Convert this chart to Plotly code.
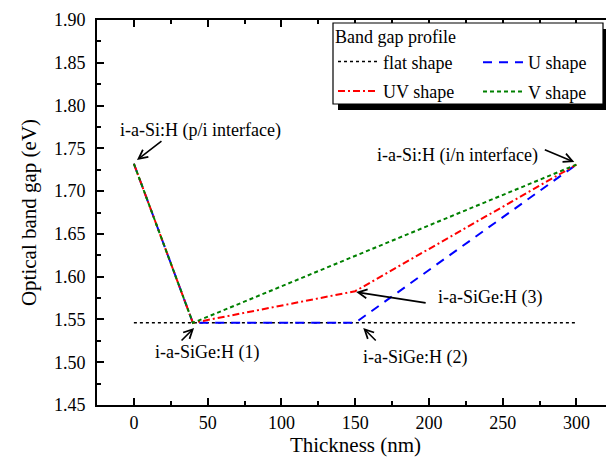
import plotly.graph_objects as go

# ---- data ----
flat_x = [0, 300]
flat_y = [1.546, 1.546]
u_x = [0, 40, 150, 300]
u_y = [1.732, 1.546, 1.546, 1.731]
uv_x = [0, 40, 150, 300]
uv_y = [1.732, 1.546, 1.583, 1.731]
v_x = [0, 40, 300]
v_y = [1.732, 1.546, 1.731]

x_ticks = [0, 50, 100, 150, 200, 250, 300]
y_ticks = [1.45, 1.50, 1.55, 1.60, 1.65, 1.70, 1.75, 1.80, 1.85, 1.90]

FONT = "Liberation Serif"

# screen-pixel helpers (page body has an 8px margin)
PL, PR, PT, PB = 97.0, 614.0, 20.0, 405.0
def px(sx):
    return (sx - PL) / (PR - PL)
def py(sy):
    return (PB - sy) / (PB - PT)

fig = go.Figure()
fig.add_trace(go.Scatter(x=flat_x, y=flat_y, mode="lines", name="flat shape", legend="legend",
                         legendgroup="g1", line=dict(color="black", width=1.5, dash="dot")))
fig.add_trace(go.Scatter(x=u_x, y=u_y, mode="lines", name="U shape", legend="legend2",
                         legendgroup="g2", line=dict(color="#0000ff", width=2, dash="9px,7px")))
fig.add_trace(go.Scatter(x=uv_x, y=uv_y, mode="lines", name="UV shape", legend="legend",
                         legendgroup="g3", line=dict(color="#ff0000", width=2, dash="7px,3px,2px,3px")))
fig.add_trace(go.Scatter(x=v_x, y=v_y, mode="lines", name="V shape", legend="legend2",
                         legendgroup="g4", line=dict(color="#008000", width=2, dash="4px,3px")))

ann_font = dict(family=FONT, size=18, color="black")
arrows = [
    (2.1, 1.7364, 26, -20),
    (40.8, 1.540, -14, 14),
    (298.6, 1.734, -31, -13),
    (150.7, 1.582, 71, 11),
    (155.5, 1.540, 14, 14),
]
for (x, y, ax, ay) in arrows:
    fig.add_annotation(x=x, y=y, ax=ax, ay=ay, text="", showarrow=True,
                       arrowhead=5, arrowsize=1.1, arrowwidth=1.6, arrowcolor="black")
texts = [
    (44.9, 1.7703, "i-a-Si:H (p/i interface)"),
    (49.6, 1.5108, "i-a-SiGe:H (1)"),
    (219.2, 1.7422, "i-a-Si:H (i/n interface)"),
    (241.6, 1.576, "i-a-SiGe:H (3)"),
    (190.7, 1.506, "i-a-SiGe:H (2)"),
]
for (x, y, t) in texts:
    fig.add_annotation(x=x, y=y, text=t, showarrow=False, font=ann_font)

# legend frame with shadow
fig.add_shape(type="rect", xref="paper", yref="paper",
              x0=px(338), x1=px(609), y0=py(110), y1=py(29),
              fillcolor="black", line=dict(width=0), layer="above")
fig.add_shape(type="rect", xref="paper", yref="paper",
              x0=px(333), x1=px(603), y0=py(104), y1=py(23),
              fillcolor="white", line=dict(width=1.2, color="black"), layer="above")

tickfont = dict(family=FONT, size=18, color="black")
fig.update_xaxes(range=[-25, 325.5], tickvals=x_ticks,
                 showline=True, linecolor="black", linewidth=2, mirror="ticks",
                 ticks="inside", ticklen=7, tickwidth=2, tickcolor="black",
                 showgrid=False, zeroline=False, tickfont=tickfont,
                 minor=dict(ticks="inside", ticklen=4, tickwidth=2, dtick=25, tick0=0, tickcolor="black"),
                 title=dict(text="Thickness (nm)", font=dict(family=FONT, size=21, color="black"), standoff=4))
fig.update_yaxes(range=[1.45, 1.90], tickvals=y_ticks, tickformat=".2f",
                 showline=True, linecolor="black", linewidth=2, mirror=False,
                 ticks="inside", ticklen=7, tickwidth=2, tickcolor="black",
                 showgrid=False, zeroline=False, tickfont=tickfont, ticklabelstandoff=6,
                 minor=dict(ticks="inside", ticklen=4, tickwidth=2, dtick=0.025, tick0=1.45, tickcolor="black"),
                 title=dict(text="Optical band gap (eV)", font=dict(family=FONT, size=21, color="black"), standoff=12))

leg_common = dict(bgcolor="rgba(0,0,0,0)", borderwidth=0, itemwidth=40, tracegroupgap=3,
                  traceorder="grouped", xanchor="left", yanchor="top",
                  font=dict(family=FONT, size=18, color="black"))
fig.update_layout(
    width=606, height=450,
    margin=dict(l=89, r=0, t=12, b=53),
    plot_bgcolor="white", paper_bgcolor="white",
    font=dict(family=FONT, size=18, color="black"),
    legend=dict(x=px(333), y=py(20),
                title=dict(text="Band gap profile", side="top", font=dict(family=FONT, size=18)),
                **leg_common),
    legend2=dict(x=px(478), y=py(44), **leg_common),
    showlegend=True,
)

fig.write_html("out.html")
